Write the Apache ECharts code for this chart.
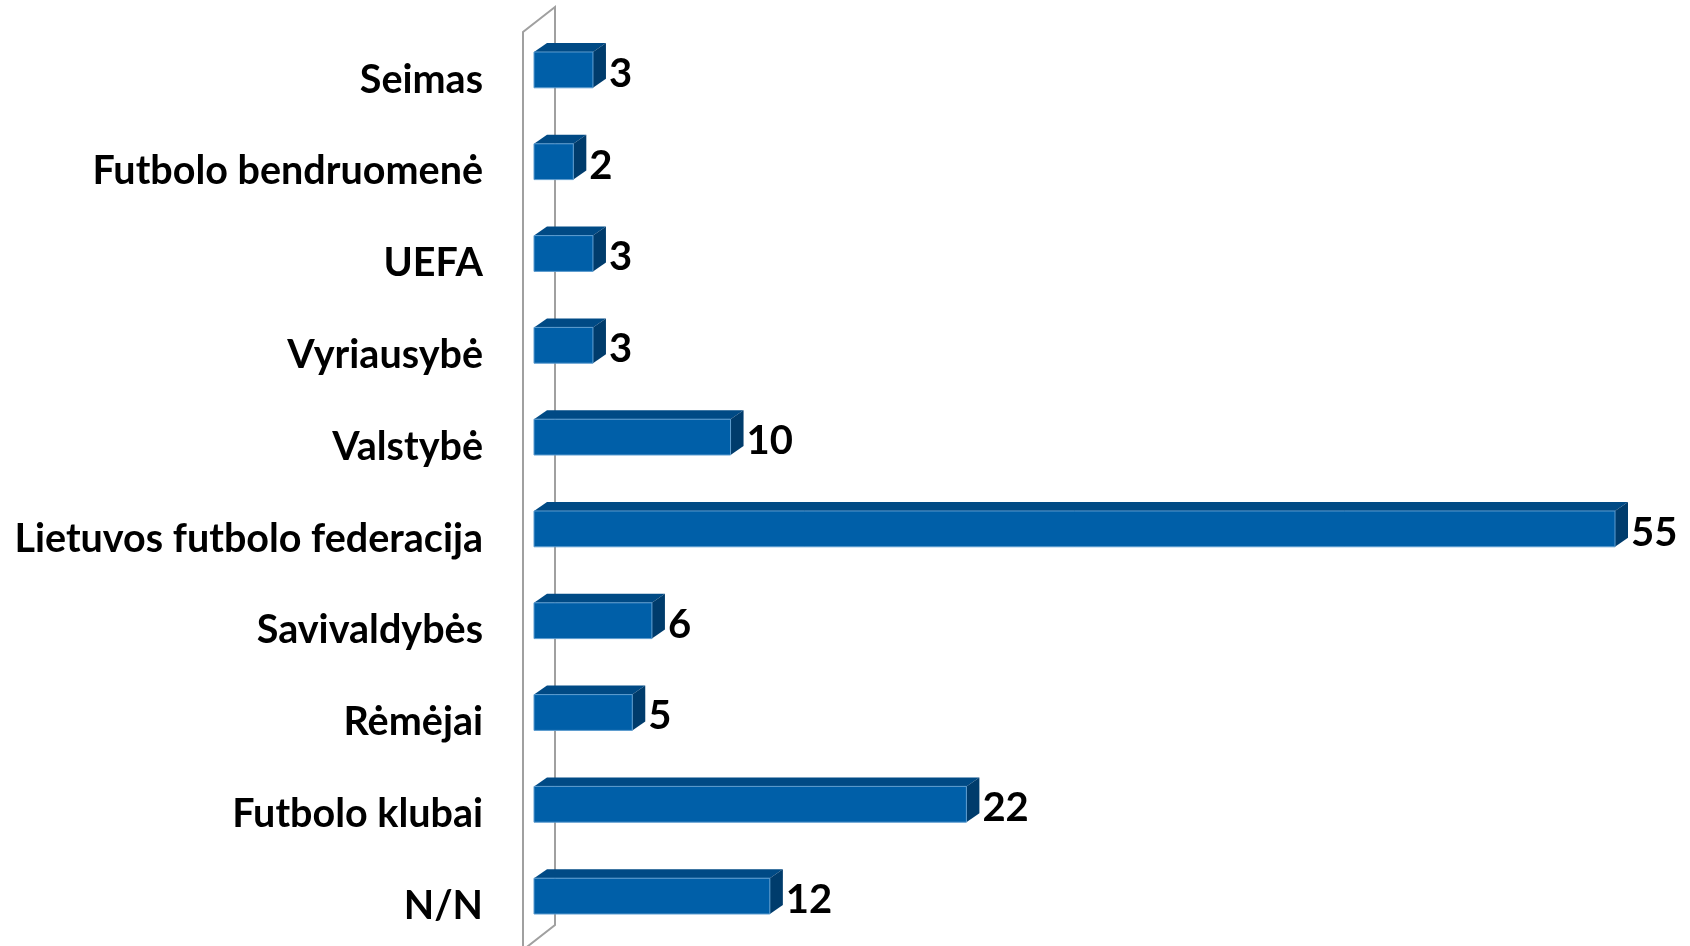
<!DOCTYPE html>
<html>
<head>
<meta charset="utf-8">
<script src="https://cdn.jsdelivr.net/npm/echarts@6/dist/echarts.min.js"></script>
<style>
  html, body { margin: 0; padding: 0; background: #fff; }
  #chart { width: 1690px; height: 946px; }
</style>
</head>
<body>
<div id="chart"></div>
<script>
// kategorijos ir reikšmės
var categories = ['Seimas', 'Futbolo bendruomenė', 'UEFA', 'Vyriausybė', 'Valstybė',
  'Lietuvos futbolo federacija', 'Savivaldybės', 'Rėmėjai', 'Futbolo klubai', 'N/N']
var values = [3, 2, 3, 3, 10, 55, 6, 5, 22, 12]

var FONT = 'Lato'
var DX = 13, DY = 9 // 3D gylis

var myChart = echarts.init(document.getElementById('chart'))

// 3D stulpelis: priekis, viršus, šonas ir reikšmė
function renderBar(params, api) {
  var idx = api.value(1)
  var v = api.value(0)
  var p0 = api.coord([0, idx])
  var p1 = api.coord([v, idx])
  var band = api.size([0, 1])[1]
  var h = band * 0.39
  var x0 = p0[0], x1 = p1[0], yc = p0[1]
  var yt = yc - h / 2, yb = yc + h / 2
  return {
    type: 'group',
    children: [
      { type: 'polygon', shape: { points: [[x0, yt], [x0 + DX, yt - DY], [x1 + DX, yt - DY], [x1, yt]] },
        style: { fill: '#004a85' } },
      { type: 'polygon', shape: { points: [[x1, yt], [x1 + DX, yt - DY], [x1 + DX, yb - DY], [x1, yb]] },
        style: { fill: '#003c6c' } },
      { type: 'rect', shape: { x: x0, y: yt, width: x1 - x0, height: h },
        style: { fill: '#005fa8', stroke: '#5c9ccf', lineWidth: 1 } },
      { type: 'text', x: x1 + DX + 3, y: yc + 4,
        style: { text: String(v), fill: '#000', font: 'bold 40px ' + FONT,
          textAlign: 'left', textVerticalAlign: 'middle' } }
    ]
  }
}

// ašies „siena“
function renderWall(params, api) {
  var cs = params.coordSys
  var zx = api.coord([0, 0])[0]
  var fx = zx - 11, bx = zx + 21
  var top = cs.y, bottom = cs.y + cs.height
  return {
    type: 'polyline',
    shape: { points: [[fx, bottom + 8], [fx, top + 8], [bx, top - 17], [bx, bottom - 17], [fx, bottom + 8]] },
    style: { stroke: '#a0a0a0', lineWidth: 2, fill: null }
  }
}

var option = {
  animation: false,
  grid: { left: 534, right: 75, top: 24, bottom: 4 },
  xAxis: { type: 'value', min: 0, max: 55, show: false },
  yAxis: {
    type: 'category',
    inverse: true,
    data: categories,
    axisLine: { show: false },
    axisTick: { show: false },
    axisLabel: {
      margin: 51,
      color: '#000',
      fontFamily: FONT,
      fontWeight: 'bold',
      fontSize: 39.5,
      verticalAlign: 'top',
      lineHeight: 20
    }
  },
  series: [
    { type: 'custom', renderItem: renderWall, data: [[0, 0]], z: 1, silent: true },
    {
      type: 'custom',
      renderItem: renderBar,
      encode: { x: 0, y: 1 },
      data: values.map(function (v, i) { return [v, i] }),
      z: 2
    }
  ]
}
myChart.setOption(option)
</script>
</body>
</html>
